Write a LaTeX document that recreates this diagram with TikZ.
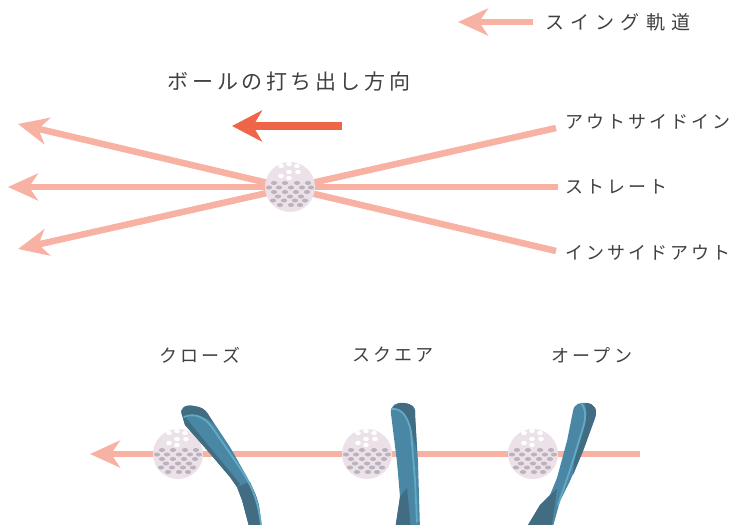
\documentclass[tikz,border=0pt]{standalone}
\usepackage{fontspec}
\usepackage{xcolor}
\usepackage{tikz}
\usetikzlibrary{positioning,arrows.meta}
\newfontfamily\jp[LetterSpace=17]{Noto Sans CJK JP}
\newfontfamily\jpwide[LetterSpace=33]{Noto Sans CJK JP}
\definecolor{swingpink}{HTML}{F8B2A4}
\definecolor{launchred}{HTML}{EE6548}
\definecolor{ballface}{HTML}{ECE0E9}
\definecolor{dimple}{HTML}{BAB3BB}
\definecolor{clubdark}{HTML}{416C82}
\definecolor{clubmid}{HTML}{4A87A5}
\definecolor{clubrim}{HTML}{62AAC5}
\definecolor{txt}{HTML}{404040}
\tikzset{
  % --- arrows ------------------------------------------------------------------
  swing/.style={swingpink,line width=6.5pt,
                -{Stealth[length=30pt,width=27pt,inset=9pt]}},
  launch/.style={launchred,line width=8pt,
                 -{Stealth[length=30pt,width=31pt,inset=9pt]}},
  % --- labels ------------------------------------------------------------------
  lab/.style={font=\jp\fontsize{18}{18}\selectfont,text=txt,inner sep=0pt},
  % --- ball with dimples -------------------------------------------------------
  ball/.pic={
    \coordinate (-c) at (0,0);
    \fill[ballface] (0,0) circle (25);
    \foreach \x/\y in {-16/-4,-5/-4,7/-4,18/-4,
                       -21/0.5,-11/0.5,1/0.5,12/0.5,21/0.5,
                       -16/5,-5/5,6/5,17/5,
                       -12/9.5,0/9.5,11/9.5,
                       -17/13.5,-6/13.5,5/13.5,15/13.5,
                       -10/18,1/18,10/18}
      \fill[dimple] (\x,\y) ellipse (3.1 and 2);
    \foreach \x/\y in {-9/-21,-1/-23,7/-21,-1/-15,8/-15,-9/-11,-1/-9}
      \fill[white] (\x,\y) ellipse (2.8 and 2.2);
  },
  clubbody/.style={fill=clubmid},
  clubshade/.style={fill=clubdark},
  clubedge/.style={draw=clubrim,line width=1.8pt,line cap=round},
}

\begin{document}
\begin{tikzpicture}[x=1pt,y=-1pt]
  \useasboundingbox (0,0) rectangle (732,525);

  % legend
  \coordinate (legR) at (533,22);
  \coordinate (legL) at (458,22);
  \draw[swing] (legR) -- (legL);
  \node[lab,font=\jpwide\fontsize{19}{19}\selectfont,anchor=west] (leg) at (545,22) {スイング軌道};

  % launch direction
  \node[lab,font=\jp\fontsize{21}{21}\selectfont] (title) at (289,82) {ボールの打ち出し方向};
  \coordinate (dirR) at (342,126);
  \coordinate (dirL) at (232,126);
  \draw[launch] (dirR) -- (dirL);

  % three swing paths through the ball
  \coordinate (oiR) at (556,128);
  \coordinate (oiL) at (18,249);
  \coordinate (stR) at (558,187);
  \coordinate (stL) at (8,187);
  \coordinate (ioR) at (556,251);
  \coordinate (ioL) at (18,124);
  \draw[swing] (oiR) -- (oiL);
  \draw[swing] (stR) -- (stL);
  \draw[swing] (ioR) -- (ioL);
  \pic (b0) at (290,187) {ball};

  \node[lab,anchor=west] (oi) at (565,122) {アウトサイドイン};
  \node[lab,anchor=west] (st) at (565,187) {ストレート};
  \node[lab,anchor=west] (io) at (565,253) {インサイドアウト};

  % club face angles
  \node[lab] (closed) at (200,355) {クローズ};
  \node[lab] (square) at (393,355) {スクエア};
  \node[lab] (open)   at (592,355) {オープン};

  \coordinate (faceR) at (640,454);
  \coordinate (faceL) at (90,454);
  \draw[swing] (faceR) -- (faceL);
  \pic (b1) at (178,454) {ball};
  \pic (b2) at (367,454) {ball};
  \pic (b3) at (533,454) {ball};

  % closed face
  \fill[clubbody] (182,415) .. controls (179,408) and (186,404) .. (194,406)
     .. controls (201,407) and (205,409) .. (208,414) -- (230,447) -- (247,477)
     .. controls (254,490) and (259,500) .. (260,512) -- (262,530) -- (250,530)
     -- (242,500) -- (237,487) -- (230,477) -- (207,450) -- (185,425) -- cycle;
  \fill[clubshade] (182,415) .. controls (179,408) and (186,404) .. (194,406)
     .. controls (201,407) and (205,409) .. (208,414) -- (214,424)
     .. controls (205,416) and (194,413) .. (186,418) -- (212,450) -- (240,484)
     -- (237,487) -- (230,477) -- (207,450) -- (185,425) -- cycle;
  \fill[clubshade] (237,487) -- (250,482) -- (256,496) -- (262,530) -- (250,530)
     -- (242,500) -- cycle;
  \draw[clubedge] (184,417) .. controls (196,412) and (206,418) .. (214,430)
     -- (240,468) .. controls (252,486) and (258,500) .. (261,525);

  % square face
  \fill[clubbody] (391,414) .. controls (390,405) and (396,402) .. (404,403)
     .. controls (412,404) and (416,407) .. (415,414) -- (418,462) -- (420,530)
     -- (395,530) -- (400,497) -- (397,462) -- cycle;
  \fill[clubshade] (404,403) .. controls (412,404) and (416,407) .. (415,414)
     -- (417,452) -- (412,432) .. controls (409,416) and (402,409) .. (393,408)
     .. controls (395,404) and (399,403) .. cycle;
  \fill[clubshade] (400,497) -- (407,488) -- (411,530) -- (395,530) -- cycle;
  \draw[clubedge] (392,409) .. controls (401,408) and (408,416) .. (411,432)
     -- (415,480) -- (417,522);

  % open face
  \fill[clubbody] (573,411) .. controls (574,404) and (580,402) .. (587,403)
     .. controls (594,404) and (598,409) .. (595,418) -- (583,451) -- (570,481)
     -- (560,501) -- (552,530) -- (525,530) -- (540,505) -- (550,495)
     -- (557,478) -- (567,441) -- cycle;
  \fill[clubshade] (585,403) -- (587,403) .. controls (594,404) and (598,409) .. (595,418)
     -- (583,451) -- (573,475) -- (574,462) -- (584,428)
     .. controls (587,418) and (587,410) .. cycle;
  \fill[clubshade] (540,505) -- (550,495) -- (557,489) -- (551,530) -- (525,530) -- cycle;
  \draw[clubedge] (582,404) .. controls (586,410) and (586,418) .. (583,428)
     -- (570,470) -- (558,505);
\end{tikzpicture}
\end{document}
